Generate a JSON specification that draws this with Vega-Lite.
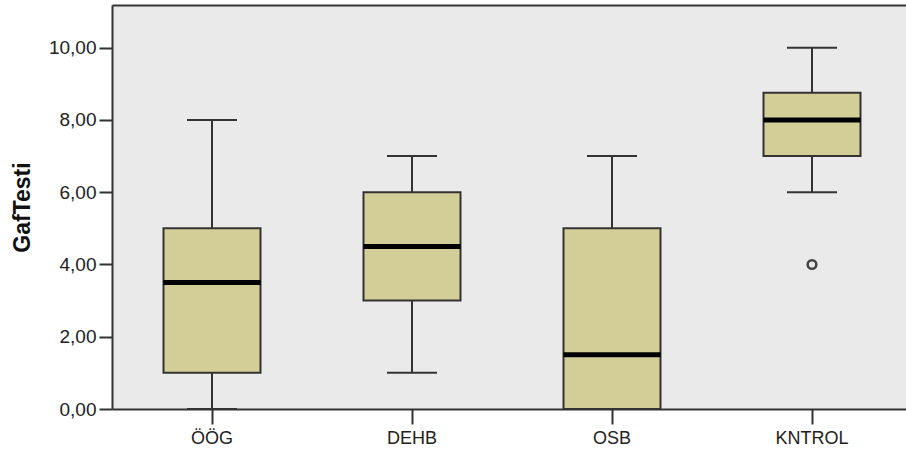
{
  "$schema": "https://vega.github.io/schema/vega-lite/v6.json",
  "width": 794,
  "height": 404,
  "autosize": {"type": "none"},
  "padding": {"left": 112, "top": 5, "right": 0, "bottom": 46},
  "background": "white",
  "config": {
    "view": {"fill": "#EAEAEA", "stroke": null},
    "font": "Liberation Sans"
  },
  "datasets": {
    "stats": [
      {"group": "ÖÖG", "min": 0, "q1": 1, "median": 3.5, "q3": 5, "max": 8},
      {"group": "DEHB", "min": 1, "q1": 3, "median": 4.5, "q3": 6, "max": 7},
      {"group": "OSB", "min": 0, "q1": 0, "median": 1.5, "q3": 5, "max": 7},
      {"group": "KNTROL", "min": 6, "q1": 7, "median": 8, "q3": 8.75, "max": 10}
    ],
    "outliers": [
      {"group": "KNTROL", "value": 4}
    ]
  },
  "layer": [
    {
      "data": {"name": "stats"},
      "mark": {"type": "rule", "color": "#333333", "strokeWidth": 2},
      "encoding": {
        "x": {
          "field": "group", "type": "nominal", "sort": ["ÖÖG", "DEHB", "OSB", "KNTROL"],
          "scale": {"range": [0, 800], "paddingInner": 0, "paddingOuter": 0},
          "axis": {
            "orient": "bottom", "title": null, "labelAngle": 0,
            "domainColor": "#333333", "domainWidth": 2,
            "tickColor": "#333333", "tickWidth": 2, "tickSize": 15,
            "labelFontSize": 18, "labelColor": "#222222", "labelPadding": 5
          }
        },
        "y": {
          "field": "min", "type": "quantitative",
          "scale": {"domain": [0, 11.18], "nice": false},
          "axis": {
            "title": "GafTesti", "titleFontSize": 23, "titleFontWeight": "bold", "titleColor": "#111111",
            "titlePadding": 14,
            "values": [0, 2, 4, 6, 8, 10],
            "labelExpr": "replace(format(datum.value, '.2f'), '.', ',')",
            "labelFontSize": 19, "labelColor": "#222222", "labelPadding": 3,
            "domainColor": "#333333", "domainWidth": 2,
            "tickColor": "#333333", "tickWidth": 2, "tickSize": 13,
            "grid": false
          }
        },
        "y2": {"field": "max"}
      }
    },
    {
      "data": {"name": "stats"},
      "mark": {"type": "tick", "color": "#333333", "opacity": 1, "thickness": 2, "size": 50},
      "encoding": {
        "x": {"field": "group", "type": "nominal", "sort": ["ÖÖG", "DEHB", "OSB", "KNTROL"],
          "axis": {"orient": "top", "title": null, "labels": false, "ticks": false, "domainColor": "#333333", "domainWidth": 2}},
        "y": {"field": "max", "type": "quantitative"}
      }
    },
    {
      "data": {"name": "stats"},
      "mark": {"type": "tick", "color": "#333333", "opacity": 1, "thickness": 2, "size": 50},
      "encoding": {
        "x": {"field": "group", "type": "nominal", "sort": ["ÖÖG", "DEHB", "OSB", "KNTROL"], "axis": null},
        "y": {"field": "min", "type": "quantitative"}
      }
    },
    {
      "data": {"name": "stats"},
      "mark": {"type": "bar", "fill": "#D3CE97", "stroke": "#333333", "strokeWidth": 2, "opacity": 1, "size": 97},
      "encoding": {
        "x": {"field": "group", "type": "nominal", "sort": ["ÖÖG", "DEHB", "OSB", "KNTROL"], "axis": null},
        "y": {"field": "q1", "type": "quantitative"},
        "y2": {"field": "q3"}
      }
    },
    {
      "data": {"name": "stats"},
      "mark": {"type": "tick", "color": "#000000", "opacity": 1, "thickness": 5, "size": 97},
      "encoding": {
        "x": {"field": "group", "type": "nominal", "sort": ["ÖÖG", "DEHB", "OSB", "KNTROL"], "axis": null},
        "y": {"field": "median", "type": "quantitative"}
      }
    },
    {
      "data": {"name": "outliers"},
      "mark": {"type": "point", "shape": "circle", "filled": false, "stroke": "#444444", "opacity": 1, "strokeWidth": 2.5, "size": 75},
      "encoding": {
        "x": {"field": "group", "type": "nominal", "sort": ["ÖÖG", "DEHB", "OSB", "KNTROL"], "axis": null},
        "y": {"field": "value", "type": "quantitative"}
      }
    }
  ]
}
